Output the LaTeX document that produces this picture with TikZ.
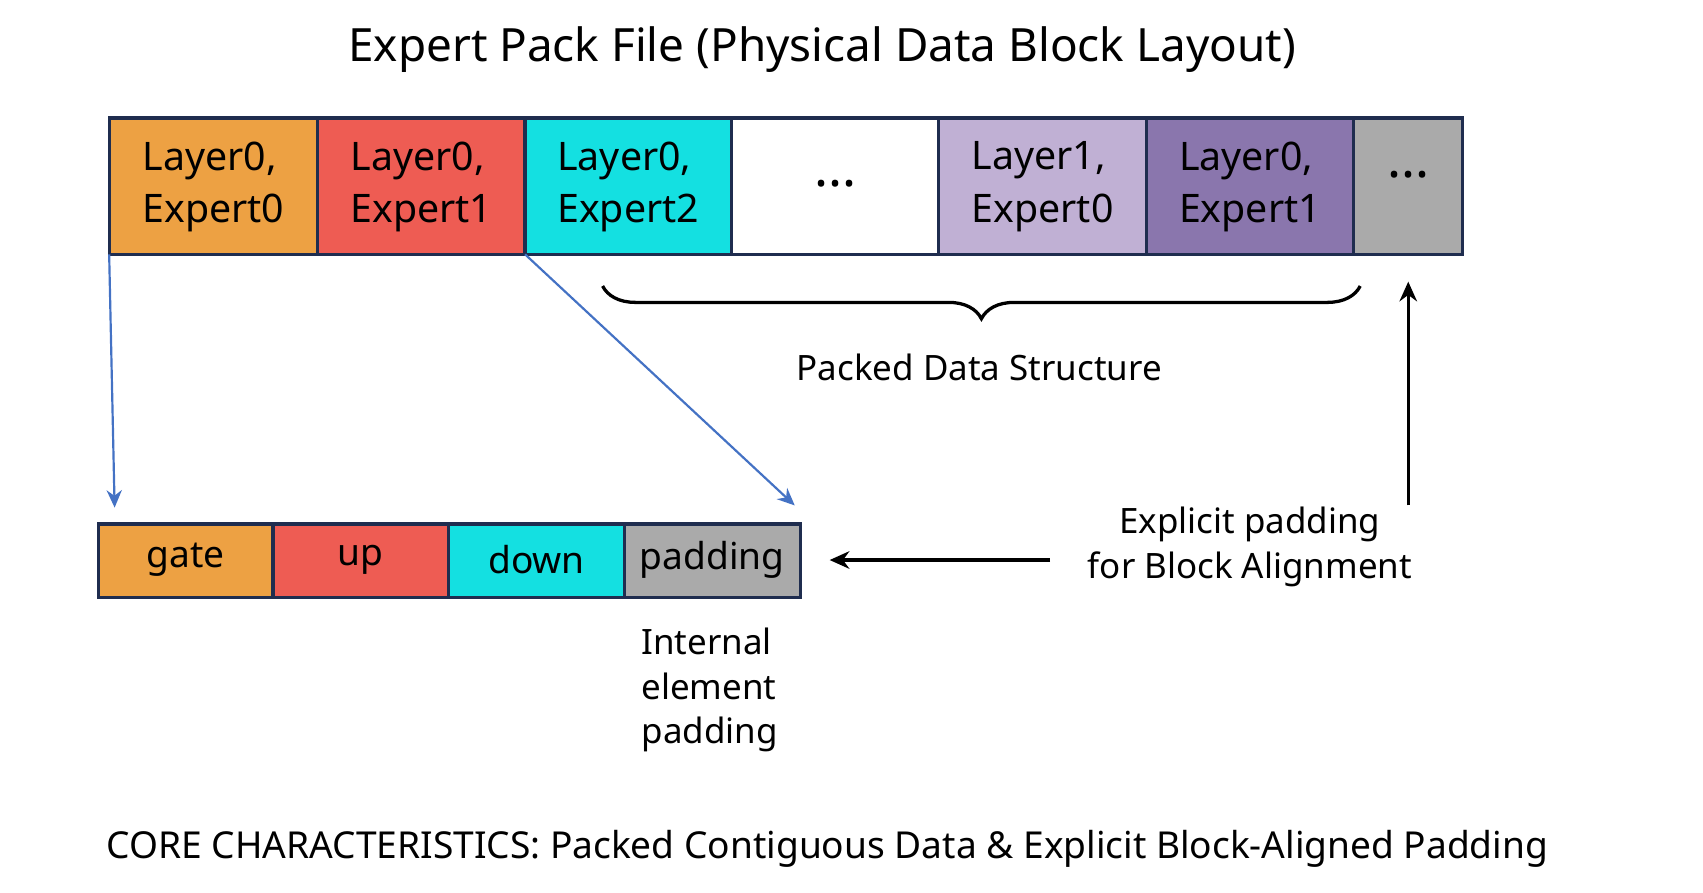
\documentclass[tikz,border=0pt]{standalone}
\usepackage{fontspec}
\setmainfont{Noto Sans}
\usetikzlibrary{decorations.pathreplacing,arrows.meta}
\definecolor{cor}{HTML}{EDA143}
\definecolor{cre}{HTML}{EE5C53}
\definecolor{ccy}{HTML}{14E0E1}
\definecolor{cl1}{HTML}{C0B0D4}
\definecolor{cl2}{HTML}{8A76AD}
\definecolor{cgr}{HTML}{AAAAAA}
\definecolor{cbd}{HTML}{1F2D4F}
\definecolor{cbl}{HTML}{4472C4}
\begin{document}
\begin{tikzpicture}[x=0.5pt,y=-0.5pt,
  blk/.style={draw=cbd,line width=1.5pt,inner sep=0,align=left,font=\fontsize{18}{24}\selectfont},
  sb/.style={draw=cbd,line width=1.5pt,inner sep=0,font=\fontsize{17}{20}\selectfont},
  lbl/.style={font=\fontsize{16}{21}\selectfont,align=center}]
\useasboundingbox (0,0) rectangle (1560,818);
\node[font=\fontsize{21}{25}\selectfont] (title) at (753,45) {Expert Pack File (Physical Data Block Layout)};
\foreach \n/\a/\b/\c/\t in {t1/100/291/cor/{Layer0,\\Expert0},t2/291/481/cre/{Layer0,\\Expert1},t3/481/670/ccy/{Layer0,\\Expert2},t4/670/860/white/{},t5/860/1050/cl1/{Layer1,\\Expert0},t6/1050/1240/cl2/{Layer0,\\Expert1},t7/1240/1340/cgr/{}}{
  \path[blk,fill=\c] (\a,108) rectangle (\b,233);
  \coordinate (\n bl) at (\a,233); \coordinate (\n br) at (\b,233);
  \node[align=left,font=\fontsize{18}{24}\selectfont] (\n) at ({(\a+\b)/2},171) {\t};
}
\node[font=\bfseries\fontsize{24}{24}\selectfont] (d1) at (765,168) {...};
\node[font=\bfseries\fontsize{24}{24}\selectfont] (d2) at (1290,160) {...};
\foreach \n/\a/\b/\c/\t in {b1/90/250/cor/gate,b2/250/411/cre/up,b3/411/572/ccy/down,b4/572/733/cgr/padding}{
  \path[sb,fill=\c] (\a,480) rectangle (\b,547);
  \node[font=\fontsize{17}{20}\selectfont] (\n) at ({(\a+\b)/2},513) {\t};
}
\coordinate (e1) at (105,465); \coordinate (e2) at (728,463);
\draw[cbl,line width=1pt,-{Stealth[length=8pt,width=7pt]}] (t1bl) -- (e1);
\draw[cbl,line width=1pt,-{Stealth[length=8pt,width=7pt]}] (t2br) -- (e2);
\draw[line width=1.5pt,decorate,decoration={brace,mirror,amplitude=15pt}] (552,262) -- (1246,262);
\node[lbl] (pds) at (897,337) {Packed Data Structure};
\node[lbl] (exp) at (1145,501) {Explicit padding\\for Block Alignment};
\coordinate (up1) at (1290,463); \coordinate (up2) at (1290,258);
\draw[line width=1.5pt,-{Stealth[length=9pt,width=8pt]}] (up1) -- (up2);
\coordinate (l1) at (962,513); \coordinate (l2) at (760,513);
\draw[line width=1.5pt,-{Stealth[length=9pt,width=8pt]}] (l1) -- (l2);
\node[lbl,align=left,font=\fontsize{16}{20.5}\selectfont] (iep) at (650,632) {Internal\\element\\padding};
\node[font=\fontsize{17}{20}\selectfont] (core) at (758,778) {CORE CHARACTERISTICS: Packed Contiguous Data \& Explicit Block-Aligned Padding};
\end{tikzpicture}
\end{document}
